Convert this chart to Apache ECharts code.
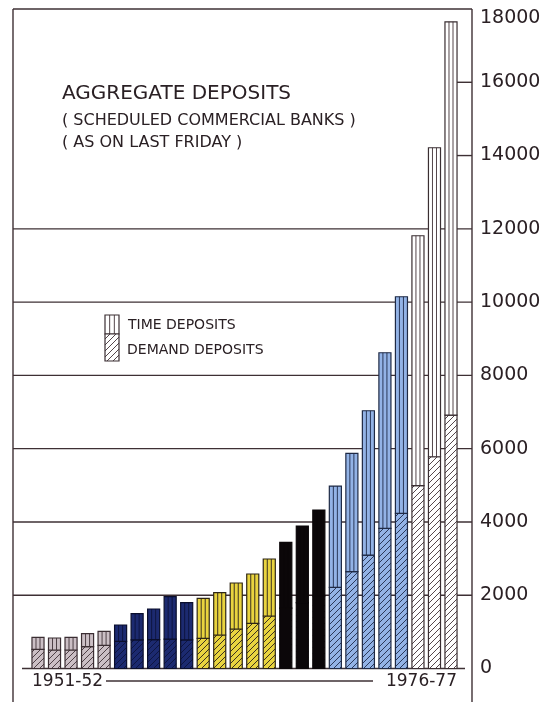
<!DOCTYPE html>
<html>
<head>
<meta charset="utf-8">
<script src="https://cdn.jsdelivr.net/npm/echarts@6/dist/echarts.min.js"></script>
<style>
  html, body { margin: 0; padding: 0; background: #ffffff; }
  #main { width: 547px; height: 702px; }
</style>
</head>
<body>
<div id="main"></div>
<script>
// ---- data (Rs. crores) ----
var categories = ['1951-52','1952-53','1953-54','1954-55','1955-56','1956-57','1957-58','1958-59','1959-60','1960-61',
  '1961-62','1962-63','1963-64','1964-65','1965-66','1966-67','1967-68','1968-69','1969-70','1970-71',
  '1971-72','1972-73','1973-74','1974-75','1975-76','1976-77'];
var demandDeposits = [524, 505, 505, 595, 633, 740, 780, 790, 800, 780,
  824, 914, 1078, 1234, 1433, 1650, 1800, 1980, 2216, 2642,
  3097, 3826, 4235, 4989, 5780, 6918];
var timeDeposits = [327, 327, 346, 355, 382, 447, 715, 834, 1159, 1016,
  1092, 1155, 1255, 1345, 1556, 1794, 2089, 2346, 2764, 3231,
  3938, 4792, 5911, 6822, 8433, 10733];
var yTicks = [0, 2000, 4000, 6000, 8000, 10000, 12000, 14000, 16000, 18000];
var firstLabel = '1951-52', lastLabel = '1976-77';

// ---- styles per plan period ----
var periodStyles = [
  {from: 0,  to: 4,  fill: '#cbbfc5', line: '#4e4046', edge: '#3b2e33'},
  {from: 5,  to: 9,  fill: '#1c2a70', line: '#0e1542', edge: '#0a0e2c'},
  {from: 10, to: 14, fill: '#e9d43f', line: '#3a3020', edge: '#2e2616'},
  {from: 15, to: 17, fill: '#0b0709', line: '#0b0709', edge: '#0b0709'},
  {from: 18, to: 22, fill: '#93b3e6', line: '#2a3859', edge: '#1f2a45'},
  {from: 23, to: 25, fill: '#ffffff', line: '#54464b', edge: '#3a2e32'}
];
function styleOf(i) {
  for (var k = 0; k < periodStyles.length; k++) {
    if (i >= periodStyles[k].from && i <= periodStyles[k].to) return periodStyles[k];
  }
  return periodStyles[0];
}

var INK = '#3e3034';
var TEXT = '#2a2024';
var FONT = 'DejaVu Sans';

function hatchRect(x0, y0, x1, y1, st, step) {
  var out = [{type: 'rect', shape: {x: x0, y: y0, width: x1 - x0, height: y1 - y0},
    style: {fill: st.fill, stroke: null}}];
  var start = Math.ceil((x0 + y0) / step) * step;
  for (var c = start; c < x1 + y1; c += step) {
    var xa = Math.max(x0, c - y1), xb = Math.min(x1, c - y0);
    if (xb - xa < 0.4) continue;
    out.push({type: 'line', shape: {x1: xa, y1: c - xa, x2: xb, y2: c - xb},
      style: {stroke: st.line, lineWidth: 1}});
  }
  out.push({type: 'rect', shape: {x: x0, y: y0, width: x1 - x0, height: y1 - y0},
    style: {fill: null, stroke: st.edge, lineWidth: 1.2}});
  return out;
}
function stripeRect(x0, y0, x1, y1, st) {
  var w = x1 - x0;
  var out = [{type: 'rect', shape: {x: x0, y: y0, width: w, height: y1 - y0},
    style: {fill: st.fill, stroke: null}}];
  [1 / 3, 2 / 3].forEach(function (f) {
    out.push({type: 'line', shape: {x1: x0 + w * f, y1: y0, x2: x0 + w * f, y2: y1},
      style: {stroke: st.line, lineWidth: 1}});
  });
  out.push({type: 'rect', shape: {x: x0, y: y0, width: w, height: y1 - y0},
    style: {fill: null, stroke: st.edge, lineWidth: 1.2}});
  return out;
}

var chart = echarts.init(document.getElementById('main'), null, {renderer: 'canvas'});

var gridTop = 9, gridBottom = 33.5;

var option = {
  backgroundColor: '#ffffff',
  animation: false,
  title: {
    text: 'AGGREGATE DEPOSITS',
    subtext: '( SCHEDULED COMMERCIAL BANKS )\n( AS ON LAST FRIDAY )',
    left: 62, top: 84, padding: 0, itemGap: 6,
    textStyle: {fontFamily: FONT, fontSize: 20, fontWeight: 'normal', color: TEXT, lineHeight: 20},
    subtextStyle: {fontFamily: FONT, fontSize: 16, color: TEXT, lineHeight: 22}
  },
  grid: [
    {left: 13, right: 75, top: gridTop, bottom: gridBottom},
    {left: 29.74, right: 87.74, top: gridTop, bottom: gridBottom}
  ],
  xAxis: [
    {type: 'value', gridIndex: 0, show: false, min: 0, max: 1},
    {type: 'category', gridIndex: 1, data: categories, show: false, boundaryGap: true}
  ],
  yAxis: [
    {type: 'value', gridIndex: 0, position: 'right', min: 0, max: 18000, interval: 2000,
      axisLine: {show: false},
      axisTick: {show: false},
      axisLabel: {margin: 8, fontFamily: FONT, fontSize: 19, color: TEXT,
        verticalAlignMaxLabel: 'top',
        formatter: function (v) { return String(v); }},
      splitLine: {show: false}
    },
    {type: 'value', gridIndex: 1, min: 0, max: 18000, show: false, splitLine: {show: false}}
  ],
  series: [{
    type: 'custom',
    xAxisIndex: 1, yAxisIndex: 1,
    encode: {x: 0, y: [1, 2]},
    data: categories.map(function (c, i) { return [i, demandDeposits[i], demandDeposits[i] + timeDeposits[i]]; }),
    renderItem: function (params, api) {
      var i = api.value(0);
      var base = api.coord([i, 0]);
      var mid = api.coord([i, api.value(1)]);
      var top = api.coord([i, api.value(2)]);
      var w = api.size([1, 0])[0] * 0.73;
      var x0 = base[0] - w / 2, x1 = base[0] + w / 2;
      var st = styleOf(i);
      var children = [];
      children = children.concat(hatchRect(x0, mid[1], x1, base[1], st, 6));
      children = children.concat(stripeRect(x0, top[1], x1, mid[1], st));
      return {type: 'group', children: children};
    }
  }]
};
chart.setOption(option);

// frame, grid lines, ticks, baseline, bottom labels and legend (positioned from the axes)
var yBase = chart.convertToPixel({yAxisIndex: 0}, 0);
var yTop = chart.convertToPixel({yAxisIndex: 0}, 18000);
var lineStyle = {stroke: INK, lineWidth: 1.4};
var legendStyle = periodStyles[5];
var graphics = [
  {type: 'line', z: -1, shape: {x1: 13, y1: yTop, x2: 13, y2: 702}, style: lineStyle},
  {type: 'line', z: -1, shape: {x1: 472, y1: yTop, x2: 472, y2: 702}, style: lineStyle},
  {type: 'line', shape: {x1: 22, y1: yBase, x2: 465, y2: yBase}, style: lineStyle},
  {type: 'line', shape: {x1: 106, y1: 681, x2: 373, y2: 681}, style: lineStyle},
  {type: 'text', left: 32, top: 673, style: {text: firstLabel, font: '17px "DejaVu Sans"', fill: TEXT}},
  {type: 'text', right: 90, top: 673, style: {text: lastLabel, font: '17px "DejaVu Sans"', fill: TEXT}},
  {type: 'group', children: stripeRect(105, 315, 119, 334, legendStyle)
      .concat(hatchRect(105, 334, 119, 361, legendStyle, 6))},
  {type: 'text', left: 128, top: 318, style: {text: 'TIME DEPOSITS', font: '14px "DejaVu Sans"', fill: TEXT}},
  {type: 'text', left: 127, top: 343, style: {text: 'DEMAND DEPOSITS', font: '14px "DejaVu Sans"', fill: TEXT}}
];
yTicks.forEach(function (v) {
  if (v === 0) return;
  var y = chart.convertToPixel({yAxisIndex: 0}, v);
  var full = !(v === 14000 || v === 16000);
  graphics.push({type: 'line', z: -1, shape: {x1: full ? 13 : 457, y1: y, x2: 472, y2: y}, style: lineStyle});
});
chart.setOption({graphic: graphics});
</script>
</body>
</html>
